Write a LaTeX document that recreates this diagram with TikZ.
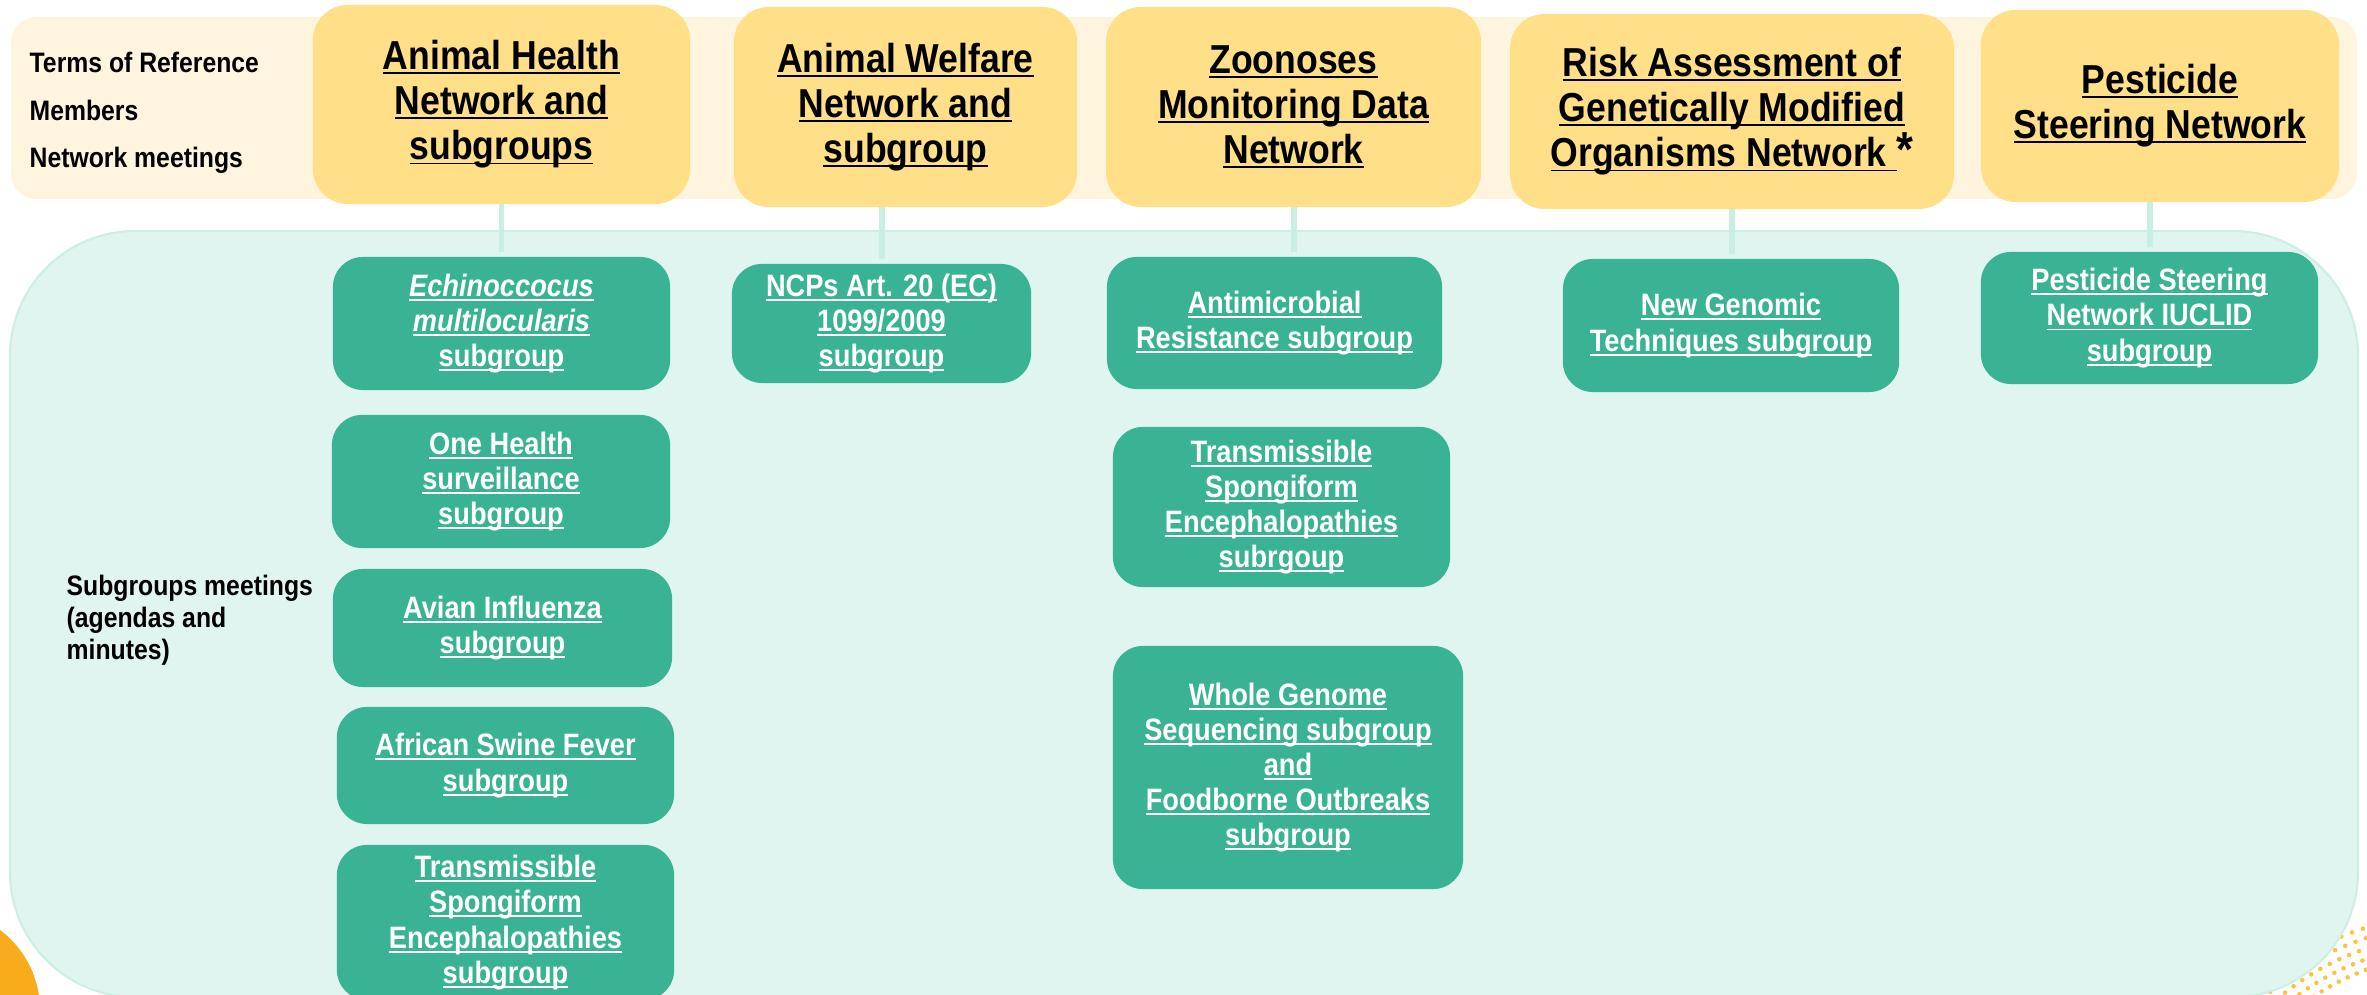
\documentclass[tikz,border=0pt]{standalone}
\usepackage{fontspec}
\setmainfont{Liberation Sans}[FakeStretch=0.88]
\usetikzlibrary{calc}

\definecolor{bandcream}{HTML}{FFF5DE}
\definecolor{netyellow}{HTML}{FFDF88}
\definecolor{panelmint}{HTML}{E0F5EF}
\definecolor{panelline}{HTML}{CDEEE3}
\definecolor{subgreen}{HTML}{3AB394}
\definecolor{linkteal}{HTML}{C9EEE4}
\definecolor{sunorange}{HTML}{F8AC1C}
\definecolor{dotyellow}{HTML}{F9C444}

\newcommand\lnk[1]{\setbox0=\hbox{#1}\rlap{\rule[-1.3pt]{\wd0}{0.55pt}}\box0}

\begin{document}
\begin{tikzpicture}[x=0.01cm,y=-0.01cm,
  netbox/.style={fill=netyellow,rounded corners=0.35cm,inner sep=0pt,outer sep=0pt,align=center,font=\bfseries\fontsize{11.5}{12.8}\selectfont,execute at begin node={\rule{0pt}{11.8pt}}},
  subbox/.style={fill=subgreen,text=white,rounded corners=0.3cm,inner sep=0pt,outer sep=0pt,align=center,font=\bfseries\fontsize{8.8}{10}\selectfont,execute at begin node={\rule{0pt}{8.2pt}}},
  link/.style={draw=linkteal,line width=1.7pt,shorten >=0.05cm},
  sidetext/.style={inner sep=0pt,font=\bfseries\fontsize{8}{9.1}\selectfont}]
\useasboundingbox (0,0) rectangle (2367,995);

% background
\fill[bandcream,rounded corners=0.25cm] (11,17) rectangle (2357,199);
\foreach \r in {245,255,...,285}
  \foreach \a in {-140,-137.7,...,-95}
    \fill[dotyellow] ($(2450,1200)+(\a:\r)$) circle[radius=2.3];
\fill[sunorange] (-60,1010) circle[radius=100];
\draw[panelline,fill=panelmint,line width=0.6pt,rounded corners=1.25cm] (10,231) rectangle (2358,997);

% left texts
\node[sidetext,anchor=base west] (tor) at (29,73) {Terms of Reference};
\node[sidetext,anchor=base west] (mem) at (29,121) {Members};
\node[sidetext,anchor=base west] (nmt) at (29,168) {Network meetings};
\node[sidetext,anchor=north west,align=left] (sgm) at (66,574) {Subgroups meetings\\(agendas and\\minutes)};

% networks
\node[netbox,minimum width=3.77cm,minimum height=1.99cm] (ahn) at (501.5,104.5) {\lnk{Animal Health}\\\lnk{Network and}\\\lnk{subgroups}};
\node[netbox,minimum width=3.43cm,minimum height=2cm] (awn) at (905.5,107) {\lnk{Animal Welfare}\\\lnk{Network and}\\\lnk{subgroup}};
\node[netbox,minimum width=3.75cm,minimum height=2cm] (zmn) at (1293.5,107) {\lnk{Zoonoses}\\\lnk{Monitoring Data}\\\lnk{Network}};
\node[netbox,minimum width=4.44cm,minimum height=1.95cm] (gmo) at (1732,111.5) {\lnk{Risk Assessment of}\\\lnk{Genetically Modified}\\\lnk{Organisms Network }{\fontsize{14}{12.8}\selectfont*}};
\node[netbox,minimum width=3.58cm,minimum height=1.92cm] (psn) at (2160,106) {\lnk{Pesticide}\\\lnk{Steering Network}};

% subgroups
\node[subbox,minimum width=3.37cm,minimum height=1.33cm] (ah1) at (501.5,323.5) {\lnk{\textit{Echinoccocus}}\\\lnk{\textit{multilocularis}}\\\lnk{subgroup}};
\node[subbox,minimum width=3.38cm,minimum height=1.33cm] (ah2) at (501,481.5) {\lnk{One Health}\\\lnk{surveillance}\\\lnk{subgroup}};
\node[subbox,minimum width=3.39cm,minimum height=1.18cm] (ah3) at (502.5,628) {\lnk{Avian Influenza}\\\lnk{subgroup}};
\node[subbox,minimum width=3.37cm,minimum height=1.17cm] (ah4) at (505.5,765.5) {\lnk{African Swine Fever}\\\lnk{subgroup}};
\node[subbox,minimum width=3.37cm,minimum height=1.55cm] (ah5) at (505.5,922.5) {\lnk{Transmissible}\\\lnk{Spongiform}\\\lnk{Encephalopathies}\\\lnk{subgroup}};
\node[subbox,minimum width=2.99cm,minimum height=1.19cm] (aw1) at (881.5,323.5) {\lnk{NCPs Art. 20 (EC)}\\\lnk{1099/2009}\\\lnk{subgroup}};
\node[subbox,minimum width=3.35cm,minimum height=1.32cm] (zm1) at (1274.5,323) {\lnk{Antimicrobial}\\\lnk{Resistance subgroup}};
\node[subbox,minimum width=3.37cm,minimum height=1.6cm] (zm2) at (1281.5,507) {\lnk{Transmissible}\\\lnk{Spongiform}\\\lnk{Encephalopathies}\\\lnk{subrgoup}};
\node[subbox,minimum width=3.5cm,minimum height=2.43cm] (zm3) at (1288,767.5) {\lnk{Whole Genome}\\\lnk{Sequencing subgroup}\\\lnk{and}\\\lnk{Foodborne Outbreaks}\\\lnk{subgroup}};
\node[subbox,minimum width=3.36cm,minimum height=1.33cm] (gm1) at (1731,325.5) {\lnk{New Genomic}\\\lnk{Techniques subgroup}};
\node[subbox,minimum width=3.37cm,minimum height=1.32cm] (ps1) at (2149.5,318) {\lnk{Pesticide Steering}\\\lnk{Network IUCLID}\\\lnk{subgroup}};

% links
\draw[link] (ahn.south) -- (ah1.north);
\draw[link] (aw1.north |- awn.south) -- (aw1.north);
\draw[link] (zmn.south) -- (zmn.south |- zm1.north);
\draw[link] (gmo.south) -- (gmo.south |- gm1.north);
\draw[link] (ps1.north |- psn.south) -- (ps1.north);
\end{tikzpicture}
\end{document}
